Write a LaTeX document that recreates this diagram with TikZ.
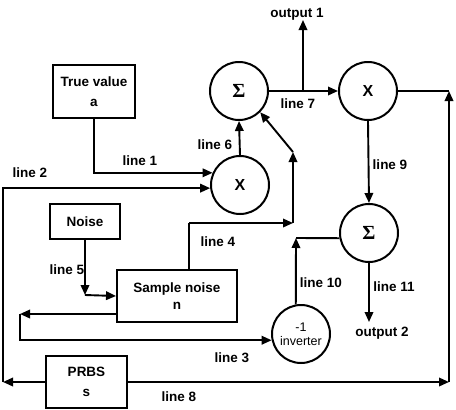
\documentclass[tikz,border=0pt]{standalone}
\usepackage{fontspec}
\setmainfont{Liberation Sans}
\newfontfamily\sigmafont{Liberation Serif}
\usetikzlibrary{arrows.meta}
\begin{document}
\begin{tikzpicture}[x=1pt,y=-1pt,
  every node/.style={font=\fontsize{13.5}{20}\selectfont\bfseries},
  wire/.style={line width=1.9pt},
  arr/.style={wire, -{Triangle[length=10pt,width=8.5pt]}},
  blk/.style={draw, line width=1.9pt, inner sep=0pt, align=center},
  circ/.style={draw, circle, line width=2pt, minimum size=58pt, inner sep=0pt, align=center},
  sig/.style={font=\fontsize{20}{20}\sigmafont\bfseries},
  mul/.style={font=\fontsize{16}{16}\selectfont\bfseries},
  lbl/.style={inner sep=0pt}]
\useasboundingbox (0,0) rectangle (456,410);

% blocks
\node[blk, minimum width=82pt, minimum height=53pt] (truev) at (94,91.5) {True value\\a};
\node[blk, minimum width=70pt, minimum height=35pt] (noise) at (85,221.5) {Noise};
\node[blk, minimum width=120pt, minimum height=52pt, font=\fontsize{13.5}{17}\selectfont\bfseries] (samp) at (177,296) {Sample noise\\n};
\node[blk, minimum width=81pt, minimum height=52pt] (prbs) at (86.5,382) {PRBS\\s};

% summing and multiplying junctions
\node[circ, mul] (mul1) at (240,185) {X};
\node[circ, sig] (sum1) at (239,91) {Σ};
\node[circ, mul] (mul2) at (368,91) {X};
\node[circ, sig] (sum2) at (369,233) {Σ};
\node[circ, font=\fontsize{12.5}{14}\selectfont] (inv) at (301,334) {-1\\inverter};

% helper points
\coordinate (lft) at (3,382);
\coordinate (rgt) at (449,382);
\coordinate (rtop) at (449,91);
\coordinate (o1) at (303,91);
\coordinate (o1end) at (303,20);
\coordinate (c5) at (85,295);
\coordinate (c3) at (20,314);
\coordinate (c4a) at (189,223);
\coordinate (c4b) at (293,223);
\coordinate (c4c) at (293,152);
\coordinate (c10) at (296,238);
\coordinate (o2end) at (369,322);

% line 1 and line 2 into the first multiplier
\draw[arr] (truev.south) |- (mul1.156);
\draw[arr] (prbs.west) -- (lft);
\draw[arr] (lft) |- (mul1.186);

% line 6 and line 7
\draw[arr] (mul1.north) -- (sum1.south);
\draw[arr] (sum1.east) -- (mul2.west);
\draw[arr] (o1) -- (o1end);

% second multiplier feedback and line 8
\draw[wire] (mul2.east) -- (rtop);
\draw[arr] (prbs.east) -- (rgt);
\draw[arr] (rgt) -- (rtop);

% line 9 and line 11
\draw[arr] (mul2.south) -- (sum2.north);
\draw[arr] (sum2.south) -- (o2end);

% line 10 from the inverter
\draw[arr] (inv.100) -- (c10);
\draw[wire] (c10) -- (sum2.190);

% line 5 from the noise source
\draw[arr] (noise.south) -- (c5);
\draw[arr] (c5) -- (samp.west);

% line 3 to the inverter
\draw[arr] ([yshift=-18pt]samp.west) -- (c3);
\draw[arr] (c3) |- (inv.192);

% line 4 to the first sum
\draw[wire] (samp.north -| c4a) -- (c4a);
\draw[arr] (c4a) -- (c4b);
\draw[arr] (c4b) -- (c4c);
\draw[arr] (c4c) -- (sum1.-45);

% labels
\node[lbl] (l1) at (140,161) {line 1};
\node[lbl] (l2) at (30,173) {line 2};
\node[lbl] (l6) at (215,145) {line 6};
\node[lbl] (l7) at (298,104) {line 7};
\node[lbl] (l9) at (390,165) {line 9};
\node[lbl] (l4) at (218,242) {line 4};
\node[lbl] (l5) at (67,270) {line 5};
\node[lbl] (l3) at (232,358) {line 3};
\node[lbl] (l10) at (321,283) {line 10};
\node[lbl] (l11) at (394,287) {line 11};
\node[lbl] (l8) at (179,397) {line 8};
\node[lbl] (out1) at (297,14) {output 1};
\node[lbl] (out2) at (382,333) {output 2};
\end{tikzpicture}
\end{document}
